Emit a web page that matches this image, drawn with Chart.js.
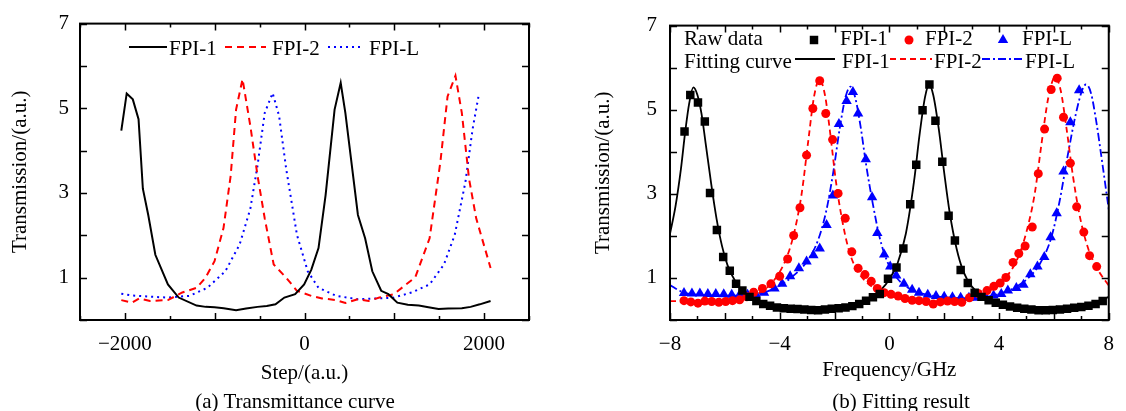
<!DOCTYPE html>
<html>
<head>
<meta charset="utf-8">
<script src="https://cdn.jsdelivr.net/npm/chart.js@4.4.1/dist/chart.umd.min.js"></script>
<style>
  body { margin: 0; background: #fff; width: 1126px; height: 411px; overflow: hidden; position: relative; font-family: 'Liberation Serif', 'Times New Roman', serif; }
  canvas { position: absolute; top: 0; }
  #stepChart { left: 0; }
  #freqChart { left: 563px; }
  .caption { position: absolute; top: 389px; font-size: 21px; line-height: 24px; white-space: nowrap; transform: translateX(-50%); color: #000; }
</style>
</head>
<body>
<canvas id="stepChart" width="563" height="411"></canvas>
<canvas id="freqChart" width="563" height="411"></canvas>
<div class="caption" style="left:295px">(a) Transmittance curve</div>
<div class="caption" style="left:901px">(b) Fitting result</div>
<script>
// (a) raw transmittance vs step
var step1 = [-2040, -1980, -1912, -1848, -1800, -1740, -1661, -1521, -1401, -1202, -1100, -1002, -900, -762, -650, -523, -420, -323, -224, -104, -4, 76, 156, 235, 335, 403, 455, 595, 675, 755, 854, 934, 1034, 1150, 1273, 1380, 1493, 1600, 1752, 1850, 1952, 2072];
var fpi1 = [4.47, 5.35, 5.21, 4.74, 3.10, 2.48, 1.54, 0.84, 0.53, 0.34, 0.31, 0.30, 0.28, 0.23, 0.27, 0.31, 0.33, 0.37, 0.53, 0.61, 0.84, 1.19, 1.70, 2.95, 4.97, 5.60, 4.89, 2.48, 1.93, 1.15, 0.69, 0.61, 0.41, 0.36, 0.34, 0.30, 0.26, 0.27, 0.28, 0.31, 0.37, 0.45];

var step2 = [-2040, -1920, -1840, -1720, -1521, -1361, -1202, -1102, -1002, -902, -822, -762, -690, -603, -523, -443, -343, -204, -84, 76, 196, 355, 455, 595, 715, 834, 994, 1234, 1393, 1513, 1593, 1681, 1752, 1832, 1912, 2072];
var fpi2 = [0.47, 0.41, 0.51, 0.45, 0.47, 0.65, 0.76, 1.00, 1.39, 2.17, 3.41, 4.97, 5.69, 4.58, 3.41, 2.40, 1.31, 1.00, 0.69, 0.57, 0.51, 0.47, 0.40, 0.49, 0.45, 0.53, 0.61, 1.01, 1.93, 3.73, 5.28, 5.77, 4.89, 3.34, 2.40, 1.23];

var stepL = [-2040, -1920, -1720, -1521, -1281, -1082, -882, -723, -603, -523, -443, -355, -283, -204, -84, 36, 156, 355, 595, 834, 994, 1194, 1393, 1553, 1673, 1792, 1872, 1944];
var fpiL = [0.62, 0.58, 0.55, 0.53, 0.57, 0.76, 1.15, 1.78, 2.63, 3.65, 4.89, 5.36, 4.82, 3.57, 2.01, 1.15, 0.76, 0.57, 0.49, 0.51, 0.53, 0.65, 0.84, 1.31, 2.01, 3.26, 4.51, 5.36];

// (b) raw points and fitted curves vs frequency
var rawFreq1 = [-7.47, -7.26, -6.98, -6.73, -6.54, -6.29, -6.06, -5.82, -5.59, -5.36, -5.1, -4.85, -4.6, -4.35, -4.1, -3.85, -3.6, -3.35, -3.1, -2.85, -2.6, -2.35, -2.1, -1.85, -1.6, -1.35, -1.1, -0.85, -0.6, -0.35, -0.05, 0.26, 0.51, 0.76, 0.98, 1.21, 1.46, 1.68, 1.93, 2.16, 2.39, 2.6, 2.86, 3.11, 3.36, 3.62, 3.88, 4.14, 4.4, 4.66, 4.92, 5.18, 5.44, 5.7, 5.96, 6.22, 6.48, 6.74, 7.0, 7.26, 7.52, 7.78];
var rawFpi1 = [4.48, 5.35, 5.17, 4.72, 3.02, 2.14, 1.50, 1.17, 0.86, 0.70, 0.55, 0.45, 0.38, 0.34, 0.30, 0.28, 0.27, 0.26, 0.25, 0.24, 0.23, 0.25, 0.27, 0.28, 0.30, 0.33, 0.38, 0.46, 0.54, 0.62, 0.98, 1.25, 1.70, 2.75, 3.69, 4.99, 5.60, 4.74, 3.76, 2.48, 1.89, 1.19, 0.88, 0.65, 0.55, 0.47, 0.41, 0.36, 0.32, 0.29, 0.27, 0.25, 0.23, 0.23, 0.24, 0.25, 0.27, 0.29, 0.31, 0.34, 0.38, 0.45];

var rawFreq2 = [-7.49, -7.24, -6.98, -6.73, -6.48, -6.22, -5.97, -5.72, -5.46, -5.2, -4.95, -4.63, -4.32, -4.0, -3.71, -3.49, -3.26, -3.02, -2.79, -2.54, -2.32, -2.07, -1.87, -1.61, -1.37, -1.14, -0.89, -0.66, -0.44, -0.19, 0.06, 0.32, 0.57, 0.83, 1.08, 1.34, 1.6, 1.86, 2.12, 2.38, 2.64, 2.92, 3.24, 3.56, 3.81, 4.04, 4.25, 4.51, 4.72, 4.95, 5.21, 5.43, 5.66, 5.9, 6.12, 6.35, 6.6, 6.83, 7.09, 7.3, 7.56];
var rawFpi2 = [0.46, 0.43, 0.40, 0.45, 0.44, 0.42, 0.44, 0.46, 0.48, 0.55, 0.66, 0.75, 0.86, 1.04, 1.45, 2.01, 2.67, 3.92, 5.03, 5.69, 4.91, 4.29, 3.01, 2.42, 1.62, 1.23, 1.08, 0.92, 0.75, 0.65, 0.61, 0.57, 0.51, 0.47, 0.46, 0.44, 0.38, 0.43, 0.45, 0.44, 0.42, 0.53, 0.63, 0.70, 0.80, 0.88, 1.01, 1.37, 1.58, 1.76, 2.21, 3.48, 4.54, 5.48, 5.75, 4.82, 3.73, 2.69, 2.09, 1.53, 1.27];

var rawFreqL = [-7.49, -7.2, -6.91, -6.62, -6.33, -6.04, -5.75, -5.46, -5.17, -4.88, -4.57, -4.19, -3.91, -3.62, -3.3, -3.02, -2.77, -2.54, -2.29, -2.06, -1.84, -1.56, -1.33, -1.14, -0.86, -0.63, -0.44, -0.19, 0.03, 0.25, 0.53, 0.83, 1.08, 1.4, 1.7, 2.0, 2.3, 2.6, 2.9, 3.2, 3.5, 3.8, 4.08, 4.32, 4.63, 4.89, 5.14, 5.4, 5.65, 5.88, 6.1, 6.35, 6.6, 6.92];
var rawFpiL = [0.64, 0.63, 0.63, 0.62, 0.62, 0.61, 0.60, 0.60, 0.60, 0.62, 0.65, 0.75, 0.86, 1.04, 1.23, 1.39, 1.54, 1.70, 2.26, 2.96, 4.66, 5.21, 5.42, 4.91, 3.82, 2.92, 2.07, 1.56, 1.27, 1.06, 0.86, 0.72, 0.65, 0.60, 0.57, 0.55, 0.54, 0.53, 0.53, 0.53, 0.55, 0.58, 0.62, 0.70, 0.76, 0.84, 1.09, 1.27, 1.50, 1.97, 2.54, 3.53, 4.70, 5.46];

var fitFreq1 = [-8, -7.8, -7.6, -7.45, -7.3, -7.15, -7.0, -6.85, -6.7, -6.5, -6.3, -6.1, -5.9, -5.6, -5.3, -5.0, -4.6, -4.2, -3.6, -3.0, -2.5, -2.0, -1.5, -1.0, -0.6, -0.3, 0, 0.3, 0.6, 0.9, 1.1, 1.3, 1.45, 1.6, 1.8, 2.0, 2.2, 2.45, 2.7, 3.0, 3.4, 3.8, 4.3, 4.8, 5.3, 5.8, 6.3, 6.8, 7.3, 7.7, 8];
var fitFpi1 = [2.05, 2.7, 3.6, 4.45, 5.15, 5.53, 5.35, 4.9, 4.2, 3.25, 2.4, 1.75, 1.3, 0.9, 0.66, 0.52, 0.41, 0.34, 0.28, 0.25, 0.25, 0.27, 0.32, 0.42, 0.56, 0.72, 0.97, 1.35, 2.05, 3.3, 4.4, 5.3, 5.6, 5.35, 4.55, 3.5, 2.55, 1.7, 1.15, 0.8, 0.56, 0.43, 0.33, 0.28, 0.25, 0.25, 0.27, 0.31, 0.37, 0.45, 0.55];

var fitFreq2 = [-8, -6, -5.2, -4.6, -4.2, -3.8, -3.5, -3.2, -2.95, -2.75, -2.55, -2.35, -2.15, -1.95, -1.7, -1.45, -1.15, -0.8, -0.4, 0, 0.6, 1.4, 2.2, 2.8, 3.4, 3.9, 4.3, 4.7, 5.0, 5.3, 5.55, 5.8, 6.05, 6.25, 6.45, 6.7, 6.95, 7.25, 7.6, 8];
var fitFpi2 = [0.45, 0.45, 0.52, 0.7, 0.95, 1.4, 2.0, 3.0, 4.3, 5.3, 5.72, 5.35, 4.4, 3.3, 2.3, 1.6, 1.15, 0.88, 0.7, 0.6, 0.51, 0.45, 0.44, 0.48, 0.6, 0.8, 1.05, 1.5, 2.1, 3.0, 4.2, 5.3, 5.78, 5.45, 4.6, 3.4, 2.45, 1.7, 1.2, 0.82];

var fitFreqL = [-8, -7.6, -7, -5.5, -4.8, -4.2, -3.6, -3.0, -2.6, -2.3, -2.05, -1.8, -1.6, -1.42, -1.25, -1.05, -0.85, -0.6, -0.35, -0.05, 0.3, 0.7, 1.2, 2.0, 2.8, 3.5, 4.1, 4.6, 5.1, 5.5, 5.9, 6.2, 6.5, 6.8, 7.05, 7.17, 7.35, 7.55, 7.75, 8];
var fitFpiL = [0.83, 0.68, 0.6, 0.58, 0.62, 0.75, 1.0, 1.4, 1.9, 2.6, 3.5, 4.6, 5.3, 5.55, 5.3, 4.6, 3.7, 2.75, 1.95, 1.35, 0.98, 0.76, 0.63, 0.54, 0.52, 0.55, 0.64, 0.78, 1.02, 1.35, 1.95, 2.8, 3.9, 4.9, 5.5, 5.6, 5.4, 4.7, 3.8, 2.63];

// labelled ticks
var stepTickLabels = [-2000, 0, 2000];
var freqTickLabels = [-8, -4, 0, 4, 8];
var transTickLabels = [1, 3, 5, 7];

var serif = "'Liberation Serif', 'Times New Roman', serif";
Chart.defaults.font.family = serif;
Chart.defaults.font.size = 21;
Chart.defaults.color = '#000';

function pairs(xs, ys) {
    return xs.map(function (x, i) {
        return { x: x, y: ys[i] };
    });
}

function fmt(v) {
    return v < 0 ? '\u2212' + Math.abs(v) : String(v);
}

function isMajor(v, step) {
    return Math.abs(v / step - Math.round(v / step)) < 1e-6;
}

// frame with inward ticks on all four sides
var frameTicks = {
    id: 'frameTicks',
    afterDatasetsDraw: function (chart, args, opts) {
        var ctx = chart.ctx;
        var a = chart.chartArea;
        var xs = chart.scales.x;
        var ys = chart.scales.y;
        ctx.save();
        ctx.strokeStyle = '#000';
        ctx.lineWidth = 1.5;
        ctx.beginPath();
        xs.ticks.forEach(function (t) {
            var px = Math.round(xs.getPixelForValue(t.value)) + 0.5;
            var len = isMajor(t.value, opts.xMajor) ? 7 : 4;
            ctx.moveTo(px, a.bottom);
            ctx.lineTo(px, a.bottom - len);
            ctx.moveTo(px, a.top);
            ctx.lineTo(px, a.top + len);
        });
        ys.ticks.forEach(function (t) {
            var py = Math.round(ys.getPixelForValue(t.value)) + 0.5;
            var len = isMajor(t.value, opts.yMajor) ? 7 : 4;
            ctx.moveTo(a.left, py);
            ctx.lineTo(a.left + len, py);
            ctx.moveTo(a.right, py);
            ctx.lineTo(a.right - len, py);
        });
        ctx.stroke();
        ctx.lineWidth = 2;
        ctx.strokeRect(a.left, a.top, a.right - a.left, a.bottom - a.top);
        ctx.restore();
    },
};

function drawMarker(ctx, style, x, y, r) {
    ctx.beginPath();
    if (style === 'rect') {
        var s = r * Math.SQRT1_2;
        ctx.rect(x - s, y - s, 2 * s, 2 * s);
    } else if (style === 'triangle') {
        ctx.moveTo(x, y - r);
        ctx.lineTo(x + r * 0.866, y + r * 0.5);
        ctx.lineTo(x - r * 0.866, y + r * 0.5);
        ctx.closePath();
    } else {
        ctx.arc(x, y, r, 0, Math.PI * 2);
    }
    ctx.fill();
}

// hand placed key, styles taken from the datasets
var keyBox = {
    id: 'keyBox',
    afterDraw: function (chart, args, opts) {
        var ctx = chart.ctx;
        ctx.save();
        ctx.font = opts.size + 'px ' + serif;
        ctx.textBaseline = 'alphabetic';
        opts.items.forEach(function (it) {
            if (it.text) {
                ctx.fillStyle = '#000';
                ctx.fillText(it.text, it.x, it.y);
                return;
            }
            var ds = chart.data.datasets[it.ds];
            if (it.line) {
                ctx.strokeStyle = ds.borderColor;
                ctx.lineWidth = ds.borderWidth;
                ctx.setLineDash(ds.borderDash || []);
                ctx.beginPath();
                ctx.moveTo(it.x, it.y);
                ctx.lineTo(it.x2, it.y);
                ctx.stroke();
                ctx.setLineDash([]);
            } else {
                ctx.fillStyle = ds.backgroundColor;
                drawMarker(ctx, ds.pointStyle, it.x, it.y, ds.pointRadius);
            }
        });
        ctx.restore();
    },
};

function yAxis(width, titlePad, tickPad) {
    return {
        type: 'linear',
        min: 0,
        max: 7,
        afterFit: function (scale) {
            scale.width = width;
        },
        ticks: {
            stepSize: 0.5,
            padding: tickPad,
            callback: function (v) {
                return transTickLabels.indexOf(v) >= 0 ? fmt(v) : '';
            },
        },
        grid: { display: false, drawTicks: false },
        border: { display: false },
        title: {
            display: true,
            text: 'Transmission/(a.u.)',
            padding: { top: titlePad, bottom: 0 },
        },
    };
}

function xAxis(min, max, step, labels, title, titlePad) {
    return {
        type: 'linear',
        min: min,
        max: max,
        afterFit: function (scale) {
            scale.height = 91;
        },
        ticks: {
            stepSize: step,
            padding: 12,
            autoSkip: false,
            maxRotation: 0,
            minRotation: 0,
            callback: function (v) {
                return labels.indexOf(v) >= 0 ? fmt(v) : '';
            },
        },
        grid: { display: false, drawTicks: false },
        border: { display: false },
        title: {
            display: true,
            text: title,
            padding: { top: 0, bottom: titlePad },
        },
    };
}

new Chart(document.getElementById('stepChart'), {
    type: 'line',
    data: {
        datasets: [
            {
                label: 'FPI-1',
                data: pairs(step1, fpi1),
                borderColor: '#000000',
                borderWidth: 2,
                pointRadius: 0,
                tension: 0,
            },
            {
                label: 'FPI-2',
                data: pairs(step2, fpi2),
                borderColor: '#ff0000',
                borderWidth: 2,
                borderDash: [7, 5],
                pointRadius: 0,
                tension: 0,
            },
            {
                label: 'FPI-L',
                data: pairs(stepL, fpiL),
                borderColor: '#0000ff',
                borderWidth: 2,
                borderDash: [2, 4],
                pointRadius: 0,
                tension: 0,
            },
        ],
    },
    options: {
        responsive: false,
        animation: false,
        layout: { padding: { top: 21, right: 34, left: 0, bottom: 0 } },
        scales: {
            x: xAxis(-2500, 2500, 500, stepTickLabels, 'Step/(a.u.)', 25),
            y: yAxis(80, 8, 11),
        },
        plugins: {
            legend: { display: false },
            tooltip: { enabled: false },
            frameTicks: { xMajor: 1000, yMajor: 1 },
            keyBox: {
                size: 21,
                items: [
                    { ds: 0, line: true, x: 129, x2: 167, y: 47 },
                    { text: 'FPI-1', x: 169, y: 55 },
                    { ds: 1, line: true, x: 225, x2: 266, y: 47 },
                    { text: 'FPI-2', x: 272, y: 55 },
                    { ds: 2, line: true, x: 328, x2: 364, y: 47 },
                    { text: 'FPI-L', x: 369, y: 55 },
                ],
            },
        },
    },
    plugins: [frameTicks, keyBox],
});

new Chart(document.getElementById('freqChart'), {
    type: 'line',
    data: {
        datasets: [
            {
                label: 'FPI-1 raw',
                data: pairs(rawFreq1, rawFpi1),
                showLine: false,
                pointStyle: 'rect',
                pointRadius: 6,
                backgroundColor: '#000000',
                borderColor: '#000000',
                pointBorderWidth: 0,
            },
            {
                label: 'FPI-2 raw',
                data: pairs(rawFreq2, rawFpi2),
                showLine: false,
                pointStyle: 'circle',
                pointRadius: 4.5,
                backgroundColor: '#ff0000',
                borderColor: '#ff0000',
                pointBorderWidth: 0,
            },
            {
                label: 'FPI-L raw',
                data: pairs(rawFreqL, rawFpiL),
                showLine: false,
                pointStyle: 'triangle',
                pointRadius: 6,
                backgroundColor: '#0000ff',
                borderColor: '#0000ff',
                pointBorderWidth: 0,
            },
            {
                label: 'FPI-1 fit',
                data: pairs(fitFreq1, fitFpi1),
                borderColor: '#000000',
                borderWidth: 1.8,
                pointRadius: 0,
                cubicInterpolationMode: 'monotone',
            },
            {
                label: 'FPI-2 fit',
                data: pairs(fitFreq2, fitFpi2),
                borderColor: '#ff0000',
                borderWidth: 1.8,
                borderDash: [6, 4],
                pointRadius: 0,
                cubicInterpolationMode: 'monotone',
            },
            {
                label: 'FPI-L fit',
                data: pairs(fitFreqL, fitFpiL),
                borderColor: '#0000ff',
                borderWidth: 1.8,
                borderDash: [8, 3, 2, 3],
                pointRadius: 0,
                cubicInterpolationMode: 'monotone',
            },
        ],
    },
    options: {
        responsive: false,
        animation: false,
        layout: { padding: { top: 21, right: 7, left: 0, bottom: 0 } },
        scales: {
            x: xAxis(-8, 8, 1, freqTickLabels, 'Frequency/GHz', 28),
            y: yAxis(107, 28, 13),
        },
        plugins: {
            legend: { display: false },
            tooltip: { enabled: false },
            frameTicks: { xMajor: 2, yMajor: 1 },
            keyBox: {
                size: 21,
                items: [
                    { text: 'Raw data', x: 121, y: 45 },
                    { ds: 0, x: 251, y: 40 },
                    { text: 'FPI-1', x: 277, y: 45 },
                    { ds: 1, x: 346, y: 40 },
                    { text: 'FPI-2', x: 362, y: 45 },
                    { ds: 2, x: 440, y: 40 },
                    { text: 'FPI-L', x: 459, y: 45 },
                    { text: 'Fitting curve', x: 121, y: 68 },
                    { ds: 3, line: true, x: 232, x2: 272, y: 59 },
                    { text: 'FPI-1', x: 279, y: 68 },
                    { ds: 4, line: true, x: 327, x2: 369, y: 59 },
                    { text: 'FPI-2', x: 371, y: 68 },
                    { ds: 5, line: true, x: 419, x2: 459, y: 59 },
                    { text: 'FPI-L', x: 462, y: 68 },
                ],
            },
        },
    },
    plugins: [frameTicks, keyBox],
});
</script>
</body>
</html>
